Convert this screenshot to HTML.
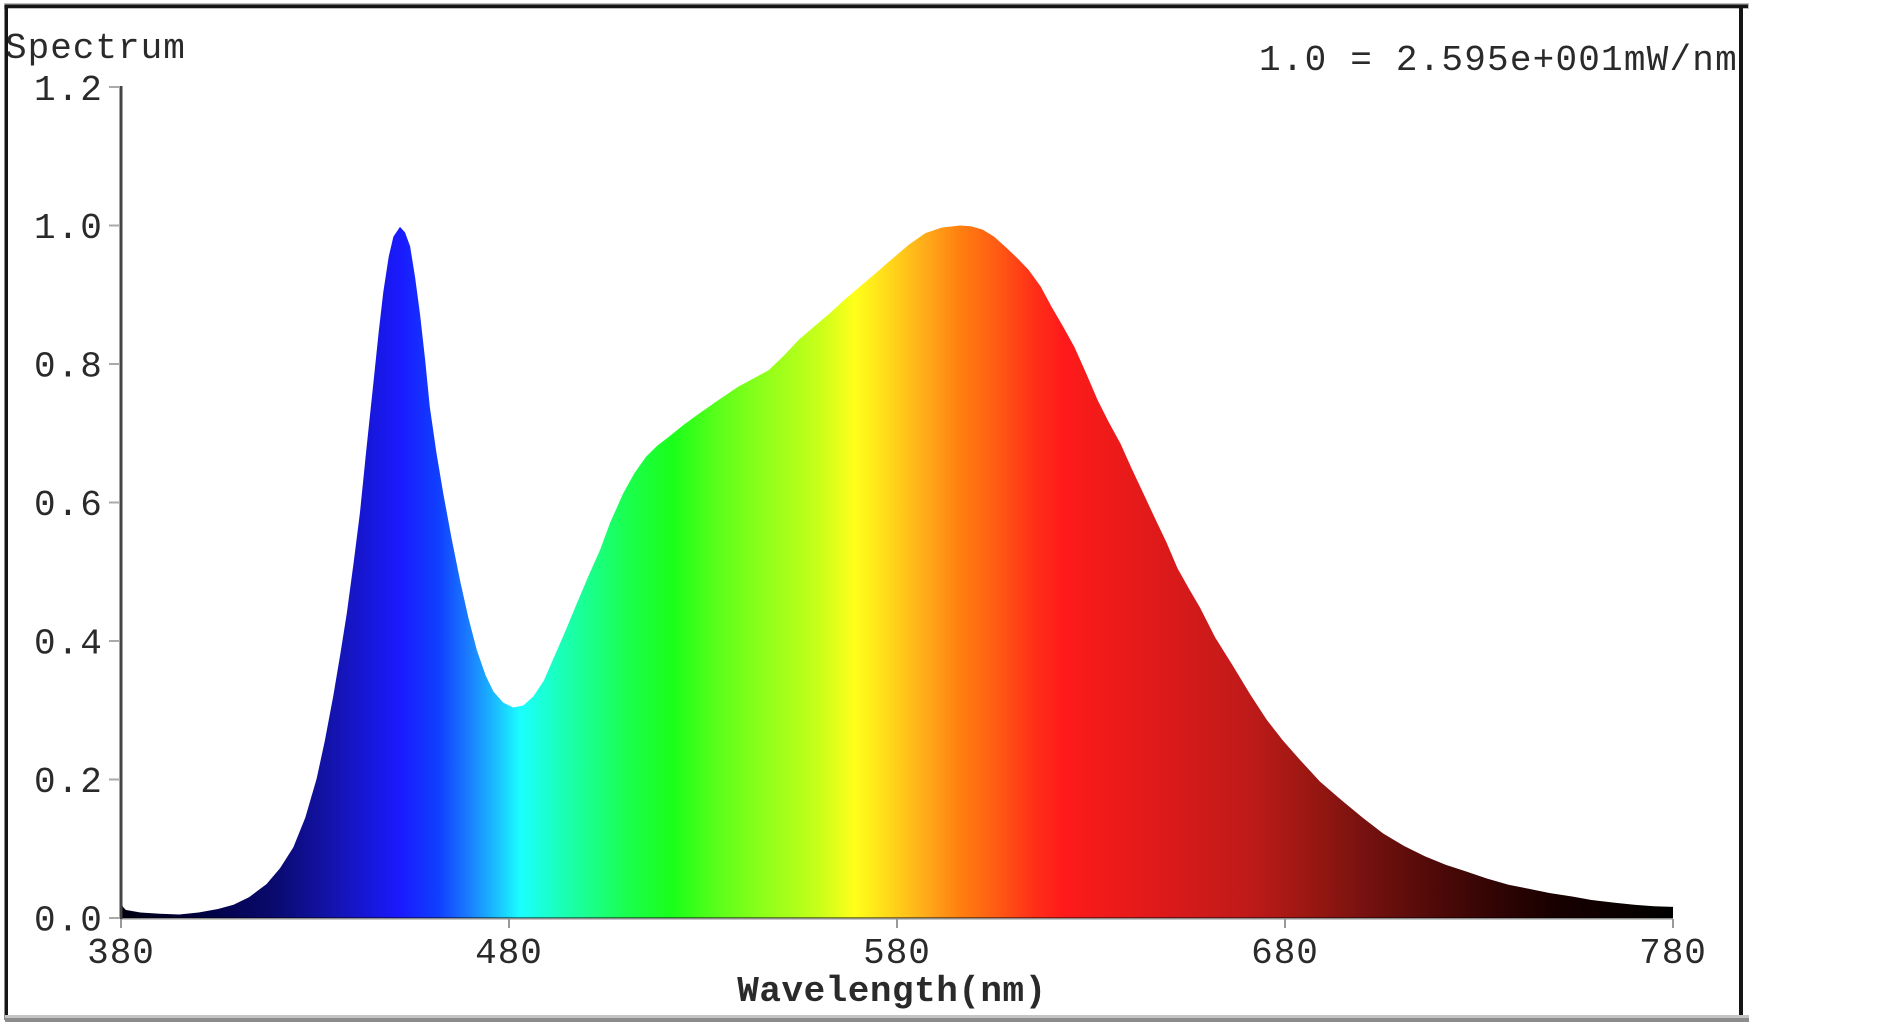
<!DOCTYPE html>
<html>
<head>
<meta charset="utf-8">
<style>
  html, body { margin:0; padding:0; background:#fff; }
  svg { display:block; }
  text { font-family: "Liberation Mono", "DejaVu Sans Mono", monospace; fill:#2a2a2a; }
</style>
</head>
<body>
<svg width="1880" height="1024" viewBox="0 0 1880 1024" xmlns="http://www.w3.org/2000/svg">
  <defs>
    <linearGradient id="spec" gradientUnits="userSpaceOnUse" x1="121" y1="0" x2="1673" y2="0">
      <stop offset="0" stop-color="#000010"/>
      <stop offset="0.05" stop-color="#000040"/>
      <stop offset="0.1" stop-color="#0a0a70"/>
      <stop offset="0.1375" stop-color="#1414b0"/>
      <stop offset="0.18" stop-color="#1a1aff"/>
      <stop offset="0.205" stop-color="#1040ff"/>
      <stop offset="0.225" stop-color="#1a80ff"/>
      <stop offset="0.24" stop-color="#1ab8ff"/>
      <stop offset="0.2575" stop-color="#1affff"/>
      <stop offset="0.28" stop-color="#1affc0"/>
      <stop offset="0.3" stop-color="#1aff90"/>
      <stop offset="0.325" stop-color="#1aff50"/>
      <stop offset="0.355" stop-color="#1aff1a"/>
      <stop offset="0.3875" stop-color="#60ff1a"/>
      <stop offset="0.425" stop-color="#a0ff1a"/>
      <stop offset="0.45" stop-color="#c8ff1a"/>
      <stop offset="0.4725" stop-color="#ffff1a"/>
      <stop offset="0.495" stop-color="#ffd81a"/>
      <stop offset="0.52" stop-color="#ffa81a"/>
      <stop offset="0.54" stop-color="#ff8010"/>
      <stop offset="0.565" stop-color="#ff5a14"/>
      <stop offset="0.5875" stop-color="#ff3018"/>
      <stop offset="0.6075" stop-color="#ff1a1a"/>
      <stop offset="0.65" stop-color="#e81a1a"/>
      <stop offset="0.6875" stop-color="#d41a1a"/>
      <stop offset="0.725" stop-color="#c01a1a"/>
      <stop offset="0.76" stop-color="#a01812"/>
      <stop offset="0.8" stop-color="#781210"/>
      <stop offset="0.845" stop-color="#500a08"/>
      <stop offset="0.8875" stop-color="#300404"/>
      <stop offset="0.925" stop-color="#180000"/>
      <stop offset="1" stop-color="#000000"/>
    </linearGradient>
  </defs>

  <rect x="0" y="0" width="1880" height="1024" fill="#ffffff"/>

  <!-- spectrum fill -->
  <polygon fill="url(#spec)" points="
121,918 121,900 123,907 126,910 140.4,912.5 159.8,913.8 179.2,914.5 198.6,912.5 218,909 233.5,904.8 249,897.2
266.5,884.1 280.1,868.1 293.3,847.4 305.3,817.6 316.6,778.8 324.7,741.4 333.2,696.4 340.2,654.8 346.8,613.3
353.8,561.4 360,512.2 366.6,447.1 373.2,384.8 378.6,332.8 383.3,292 388.7,256.7 393.4,236.6 400,226.9
405,232.4 410.1,246.3 415.1,277.4 420.1,314.8 425.2,360.5 429.8,406.9 436.4,452.6 443.4,494.2 451.6,538.5
460.1,580.7 468.3,617.4 476.8,650 485.7,675.6 493.5,691.6 503.2,702.6 513.3,707.5 523.4,705.4 533.4,696.4
543.9,680.5 553.2,659 565.3,631.3 576.5,604.3 588.5,575.9 600.2,549.6 609.9,523.3 623.1,493.5 634.3,473.4
646,456.8 657.2,445.7 668.9,436.7 683.6,424.9 699.5,413.2 718.5,400 737.9,386.9 753.4,378.5 768.6,370.2
783.7,355.7 798.8,339.8 814,326.6 829.5,313.5 844.6,299.6 860.1,286.4 875.7,273.3 890.8,260.1 908.6,244.9
925.3,233.1 941.6,227.6 959.9,225.5 970.7,226.2 982.7,229.6 994,236.6 1005.6,247 1017.3,258.1 1028.5,269.8
1040.6,286.4 1051.4,306.5 1062.7,325.9 1074.3,346.7 1086,373 1097.6,400 1108.8,422.2 1120.5,443.6 1131.7,468.6
1143.4,493.5 1155,518.4 1166.3,542 1177.5,568.3 1189.2,589.1 1200.1,607.8 1215.2,637.5 1233.4,666.6 1250.1,694.3
1266.8,719.9 1283.1,740.7 1300.2,760.1 1320,781.6 1341.6,800.3 1362.6,817.6 1383.2,833.5 1404.1,846 1425.1,856.4
1445.6,864.7 1466.6,871.6 1486.8,878.5 1508.5,884.8 1529.4,888.9 1550,893.1 1572.1,896.5 1591.5,900 1614.8,902.8
1634.2,904.8 1653.6,906.2 1673,906.9 1673,918"/>

  <!-- x axis line -->
  <rect x="121" y="917" width="1552" height="2.5" fill="#000" fill-opacity="0.45"/>

  <!-- y axis -->
  <rect x="119.5" y="86" width="3" height="833" fill="#444"/>

  <!-- y ticks -->
  <g fill="#aaa">
    <rect x="109" y="86" width="11" height="2"/>
    <rect x="109" y="224.5" width="11" height="2"/>
    <rect x="109" y="363" width="11" height="2"/>
    <rect x="109" y="501.5" width="11" height="2"/>
    <rect x="109" y="640" width="11" height="2"/>
    <rect x="109" y="778.5" width="11" height="2"/>
    <rect x="109" y="917" width="11" height="2"/>
  </g>

  <!-- x ticks -->
  <g fill="#999">
    <rect x="120" y="919" width="2" height="9"/>
    <rect x="508" y="919" width="2" height="9"/>
    <rect x="896" y="919" width="2" height="9"/>
    <rect x="1284" y="919" width="2" height="9"/>
    <rect x="1672" y="919" width="2" height="9"/>
  </g>

  <!-- y labels -->
  <g font-size="36" letter-spacing="1.5">
    <text x="34" y="100">1.2</text>
    <text x="34" y="238">1.0</text>
    <text x="34" y="376.5">0.8</text>
    <text x="34" y="515">0.6</text>
    <text x="34" y="653.5">0.4</text>
    <text x="34" y="792">0.2</text>
    <text x="34" y="930.5">0.0</text>
  </g>

  <!-- x labels -->
  <g font-size="36" letter-spacing="1" text-anchor="middle">
    <text x="121" y="963">380</text>
    <text x="509" y="963">480</text>
    <text x="897" y="963">580</text>
    <text x="1285" y="963">680</text>
    <text x="1673" y="963">780</text>
  </g>

  <text x="892" y="1001" font-size="36" font-weight="bold" letter-spacing="0.5" text-anchor="middle">Wavelength(nm)</text>

  <text x="5" y="58" font-size="36" letter-spacing="1">Spectrum</text>

  <text x="1259" y="70" font-size="36" letter-spacing="1.2">1.0 = 2.595e+001mW/nm</text>

  <!-- clip area right of frame -->
  <rect x="1743" y="0" width="137" height="1024" fill="#fff"/>

  <!-- frame -->
  <rect x="4" y="3" width="1745" height="6" fill="#bdbdbd"/>
  <rect x="5" y="4.5" width="1743" height="3.5" fill="#151515"/>
  <rect x="4.5" y="5" width="3.5" height="1015" fill="#151515"/>
  <rect x="1739" y="5" width="4" height="1015" fill="#151515"/>
  <rect x="5" y="1015" width="1744" height="3" fill="#c4c4c4"/>
  <rect x="5" y="1018" width="1744" height="4" fill="#8c8c8c"/>
</svg>
</body>
</html>
